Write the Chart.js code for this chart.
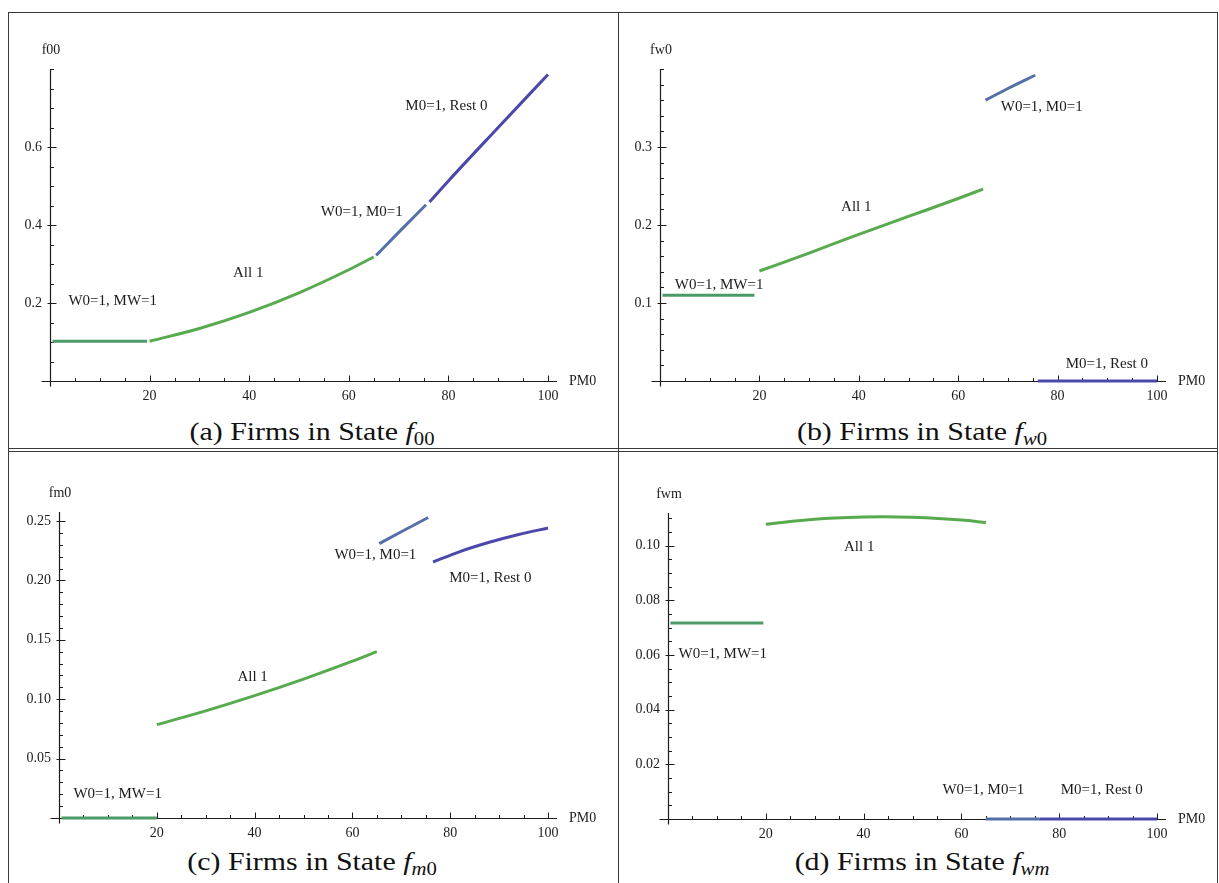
<!DOCTYPE html>
<html>
<head>
<meta charset="utf-8">
<script src="https://cdn.jsdelivr.net/npm/chart.js@4.4.0/dist/chart.umd.min.js"></script>
<style>
  html, body { margin: 0; padding: 0; background: #fff; }
  body { position: relative; width: 1219px; height: 883px; overflow: hidden; }
  .rule { position: absolute; background: #3a3a3a; }
  canvas { position: absolute; }
  .cap {
    position: absolute; width: 420px; text-align: center;
    font-family: "Liberation Serif", serif; font-size: 26px; color: #111;
    line-height: 30px; transform: scaleX(1.15); transform-origin: 50% 50%;
    white-space: nowrap;
  }
  .cap sub { font-size: 18px; vertical-align: -5px; line-height: 0; }
</style>
</head>
<body>
<div class="rule" style="left:8px;top:12px;width:1210px;height:1px"></div>
<div class="rule" style="left:8px;top:448px;width:1210px;height:1px"></div>
<div class="rule" style="left:8px;top:451px;width:1210px;height:1px"></div>
<div class="rule" style="left:8px;top:12px;width:1px;height:871px"></div>
<div class="rule" style="left:618px;top:12px;width:1px;height:871px"></div>
<div class="rule" style="left:1217px;top:12px;width:1px;height:871px"></div>

<canvas id="pA"></canvas>
<canvas id="pB"></canvas>
<canvas id="pC"></canvas>
<canvas id="pD"></canvas>

<div class="cap" style="left:102px;top:417px">(a) Firms in State <i>f</i><sub>00</sub></div>
<div class="cap" style="left:712px;top:417px">(b) Firms in State <i>f</i><sub><i>w</i>0</sub></div>
<div class="cap" style="left:102px;top:847px">(c) Firms in State <i>f</i><sub><i>m</i>0</sub></div>
<div class="cap" style="left:712px;top:847px">(d) Firms in State <i>f</i><sub><i>wm</i></sub></div>

<script>
// Regimes plotted against PM0, one curve piece per regime
const regimes = ['W0=1, MW=1', 'All 1', 'W0=1, M0=1', 'M0=1, Rest 0'];
const regimeColors = ['#4b9a69', '#57aa4e', '#5570a9', '#4c47aa'];

const xTickLabels = ['20', '40', '60', '80', '100'];
const xAxisTitle = 'PM0';

// f00
const f00Ticks = ['0.2', '0.4', '0.6'];
const f00W0MW1X = [0.5, 19.5];
const f00W0MW1Y = [0.102, 0.102];
const f00All1X = [20, 30, 40, 50, 60, 65];
const f00All1Y = [0.102, 0.1346, 0.176, 0.2262, 0.2852, 0.318];
const f00W0M0X = [65.5, 70, 75.5];
const f00W0M0Y = [0.322, 0.381, 0.452];
const f00M0RestX = [76.2, 80, 90, 100];
const f00M0RestY = [0.459, 0.513, 0.650, 0.786];
const f00Notes = [[3, 79.6, 0.705], [2, 62.6, 0.433], [1, 39.8, 0.277], [0, 12.6, 0.205]];

// fw0
const fw0Ticks = ['0.1', '0.2', '0.3'];
const fw0W0MW1X = [0.5, 19];
const fw0W0MW1Y = [0.110, 0.110];
const fw0All1X = [20, 30, 40, 50, 60, 65];
const fw0All1Y = [0.141, 0.164, 0.188, 0.211, 0.234, 0.246];
const fw0W0M0X = [65.5, 70, 75.5];
const fw0W0M0Y = [0.360, 0.375, 0.392];
const fw0M0RestX = [76, 100];
const fw0M0RestY = [0, 0];
const fw0Notes = [[2, 76.8, 0.351], [1, 39.5, 0.223], [0, 11.9, 0.123], [3, 89.9, 0.022]];

// fm0
const fm0Ticks = ['0.05', '0.10', '0.15', '0.20', '0.25'];
const fm0W0MW1X = [0.5, 20];
const fm0W0MW1Y = [0, 0];
const fm0All1X = [20, 30, 40, 50, 60, 65];
const fm0All1Y = [0.0786, 0.0902, 0.103, 0.1169, 0.1320, 0.140];
const fm0W0M0X = [65.5, 70, 75.5];
const fm0W0M0Y = [0.231, 0.241, 0.253];
const fm0M0RestX = [76.5, 82, 88, 94, 100];
const fm0M0RestY = [0.2155, 0.2243, 0.2321, 0.2387, 0.2441];
const fm0Notes = [[2, 64.7, 0.221], [3, 88.2, 0.202], [1, 39.6, 0.119], [0, 12.0, 0.020]];

// fwm
const fwmTicks = ['0.02', '0.04', '0.06', '0.08', '0.10'];
const fwmW0MW1X = [0.5, 19.5];
const fwmW0MW1Y = [0.0717, 0.0717];
const fwmAll1X = [20, 30, 40, 44, 50, 60, 65];
const fwmAll1Y = [0.1079, 0.1097, 0.1105, 0.1106, 0.1104, 0.1094, 0.1085];
const fwmW0M0X = [65, 76];
const fwmW0M0Y = [0, 0];
const fwmM0RestX = [76, 100];
const fwmM0RestY = [0, 0];
const fwmNotes = [[1, 39.1, 0.0994], [0, 11.2, 0.0602], [2, 64.5, 0.0106], [3, 88.7, 0.0106]];

const SERIF = '"Liberation Serif", "Times New Roman", serif';
const INK = '#1c1c1c';

// Mathematica-style axes: lines crossing at the origin, ticks pointing inward
const mmaAxes = {
  id: 'mmaAxes',
  beforeDatasetsDraw(chart, args, o) {
    const { ctx } = chart;
    const xs = chart.scales.x, ys = chart.scales.y;
    const X0 = Math.round(xs.getPixelForValue(0)) + 0.5;
    const Y0 = Math.round(ys.getPixelForValue(0)) + 0.5;
    const xEnd = xs.getPixelForValue(xs.max);
    const yEnd = ys.getPixelForValue(ys.max);
    ctx.save();
    ctx.strokeStyle = INK;
    ctx.lineWidth = 1.2;
    ctx.beginPath();
    ctx.moveTo(X0 - 9, Y0); ctx.lineTo(xEnd + 9, Y0);
    ctx.moveTo(X0, Y0 + 5); ctx.lineTo(X0, yEnd);
    ctx.stroke();
    ctx.lineWidth = 1;
    ctx.beginPath();
    for (let v = 5; v <= 100; v += 5) {
      const px = Math.round(xs.getPixelForValue(v)) + 0.5;
      const len = v % 20 === 0 ? 6 : 3.5;
      ctx.moveTo(px, Y0); ctx.lineTo(px, Y0 - len);
    }
    const n = Math.round(ys.max / o.yMinor + 1e-6);
    for (let k = 1; k <= n; k++) {
      const v = k * o.yMinor;
      if (v > ys.max + 1e-9) break;
      const py = Math.round(ys.getPixelForValue(v)) + 0.5;
      const major = o.yMajor.some(m => Math.abs(m - v) < 1e-9);
      ctx.moveTo(major ? X0 - 3 : X0, py); ctx.lineTo(X0 + (major ? 6 : 3.5), py);
    }
    ctx.stroke();
    ctx.restore();
  },
  afterDatasetsDraw(chart, args, o) {
    const { ctx } = chart;
    const xs = chart.scales.x, ys = chart.scales.y;
    ctx.save();
    ctx.fillStyle = INK;
    ctx.textAlign = 'center';
    ctx.textBaseline = 'middle';
    ctx.font = '15px ' + SERIF;
    o.notes.forEach(([i, x, y]) => {
      ctx.fillText(regimes[i], xs.getPixelForValue(x), ys.getPixelForValue(y));
    });
    ctx.font = '14px ' + SERIF;
    ctx.fillText(o.yTitle, xs.getPixelForValue(0) + 1, ys.getPixelForValue(ys.max) - 19);
    ctx.textAlign = 'left';
    ctx.fillText(xAxisTitle, xs.getPixelForValue(xs.max) + 21, ys.getPixelForValue(0));
    ctx.restore();
  }
};

function buildPanel(p) {
  const cv = document.getElementById(p.id);
  cv.width = p.rect.w; cv.height = p.rect.h;
  cv.style.left = p.rect.x + 'px'; cv.style.top = p.rect.y + 'px';
  const YW = 40, XH = 30;
  const L = p.area.x0 - p.rect.x, R = p.area.x1 - p.rect.x;
  const T = p.area.yTop - p.rect.y, B = p.area.y0 - p.rect.y;
  const yVals = p.yTicks.map(Number);

  const datasets = p.pieces.map(([xs, ys], i) => ({
    label: regimes[i],
    data: xs.map((x, k) => ({ x, y: ys[k] })),
    borderColor: regimeColors[i],
    borderWidth: 3,
    borderCapStyle: 'butt',
    pointRadius: 0,
    cubicInterpolationMode: 'monotone',
    fill: false,
    clip: false
  }));

  new Chart(cv, {
    type: 'line',
    data: { datasets },
    plugins: [mmaAxes],
    options: {
      responsive: false,
      animation: false,
      devicePixelRatio: 1,
      layout: { padding: { left: L - YW, right: p.rect.w - R, top: T, bottom: p.rect.h - B - XH } },
      plugins: {
        legend: { display: false },
        tooltip: { enabled: false },
        mmaAxes: { yTitle: p.yTitle, yMinor: p.yMinor, yMajor: yVals, notes: p.notes }
      },
      scales: {
        x: {
          type: 'linear', min: 0, max: 100,
          grid: { display: false, drawTicks: false }, border: { display: false },
          afterFit: s => { s.height = XH; },
          afterBuildTicks: s => { s.ticks = xTickLabels.map(t => ({ value: Number(t) })); },
          ticks: {
            autoSkip: false, maxRotation: 0, padding: 7, color: INK,
            font: { family: SERIF, size: 14 },
            callback: (v, i) => xTickLabels[i]
          }
        },
        y: {
          type: 'linear', min: 0, max: p.yMax,
          grid: { display: false, drawTicks: false }, border: { display: false },
          afterFit: s => { s.width = YW; },
          afterBuildTicks: s => { s.ticks = yVals.map(v => ({ value: v })); },
          ticks: {
            autoSkip: false, padding: 8, color: INK,
            font: { family: SERIF, size: 14 },
            callback: (v, i) => p.yTicks[i]
          }
        }
      }
    }
  });
}

buildPanel({
  id: 'pA', rect: { x: 9, y: 14, w: 607, h: 398 },
  area: { x0: 50, x1: 548, y0: 381, yTop: 69 },
  yMax: 0.8, yMinor: 0.05, yTicks: f00Ticks, yTitle: 'f00',
  pieces: [[f00W0MW1X, f00W0MW1Y], [f00All1X, f00All1Y], [f00W0M0X, f00W0M0Y], [f00M0RestX, f00M0RestY]],
  notes: f00Notes
});
buildPanel({
  id: 'pB', rect: { x: 619, y: 14, w: 597, h: 398 },
  area: { x0: 660, x1: 1157, y0: 381, yTop: 69 },
  yMax: 0.4, yMinor: 0.02, yTicks: fw0Ticks, yTitle: 'fw0',
  pieces: [[fw0W0MW1X, fw0W0MW1Y], [fw0All1X, fw0All1Y], [fw0W0M0X, fw0W0M0Y], [fw0M0RestX, fw0M0RestY]],
  notes: fw0Notes
});
buildPanel({
  id: 'pC', rect: { x: 9, y: 455, w: 607, h: 390 },
  area: { x0: 59, x1: 548, y0: 818, yTop: 512 },
  yMax: 0.2576, yMinor: 0.01, yTicks: fm0Ticks, yTitle: 'fm0',
  pieces: [[fm0W0MW1X, fm0W0MW1Y], [fm0All1X, fm0All1Y], [fm0W0M0X, fm0W0M0Y], [fm0M0RestX, fm0M0RestY]],
  notes: fm0Notes
});
buildPanel({
  id: 'pD', rect: { x: 619, y: 455, w: 597, h: 390 },
  area: { x0: 668, x1: 1157, y0: 819, yTop: 513 },
  yMax: 0.112, yMinor: 0.005, yTicks: fwmTicks, yTitle: 'fwm',
  pieces: [[fwmW0MW1X, fwmW0MW1Y], [fwmAll1X, fwmAll1Y], [fwmW0M0X, fwmW0M0Y], [fwmM0RestX, fwmM0RestY]],
  notes: fwmNotes
});
</script>
</body>
</html>
